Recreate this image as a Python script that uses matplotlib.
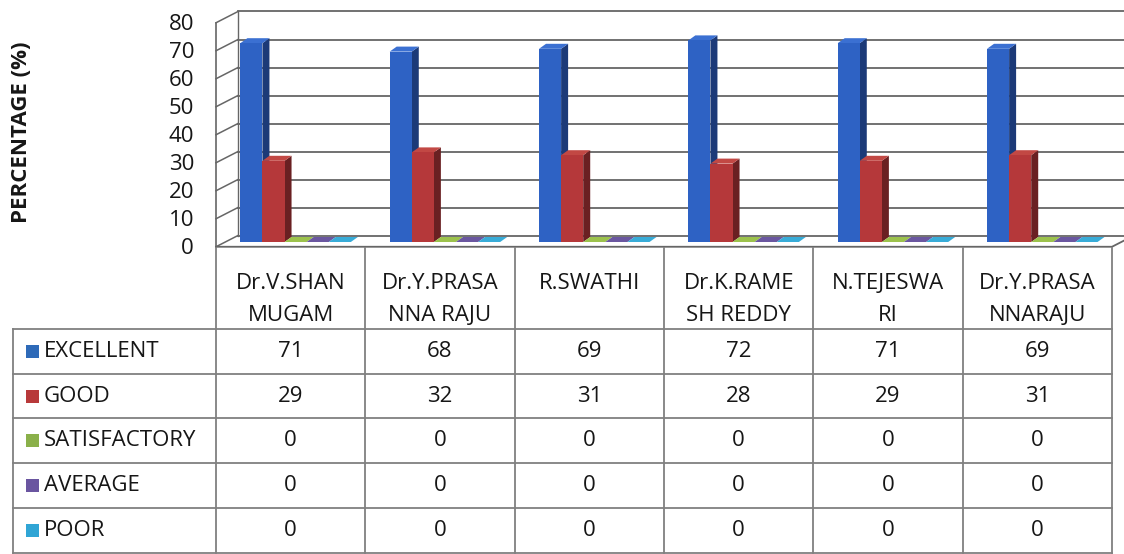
import numpy as np
import matplotlib.pyplot as plt
from matplotlib.patches import Polygon, Rectangle

plt.rcParams['font.family'] = ['Open Sans', 'DejaVu Sans']

teachers = ['Dr.V.SHAN\nMUGAM', 'Dr.Y.PRASA\nNNA RAJU', 'R.SWATHI',
            'Dr.K.RAME\nSH REDDY', 'N.TEJESWA\nRI', 'Dr.Y.PRASA\nNNARAJU']
ratings = ['EXCELLENT', 'GOOD', 'SATISFACTORY', 'AVERAGE', 'POOR']
excellent = [71, 68, 69, 72, 71, 69]
good = [29, 32, 31, 28, 29, 31]
satisfactory = [0, 0, 0, 0, 0, 0]
average = [0, 0, 0, 0, 0, 0]
poor = [0, 0, 0, 0, 0, 0]
yticks = [0, 10, 20, 30, 40, 50, 60, 70, 80]

series = [excellent, good, satisfactory, average, poor]
# (front, side, top) colours
face_cols = [('#2e62c4', '#1c3a78', '#3b70d2'),
             ('#b5383a', '#6a2022', '#c24844'),
             ('#8db340', '#5d7a2a', '#9cc24c'),
             ('#5c4a8e', '#3a2e60', '#6a57a0'),
             ('#2a9fcf', '#1c6f90', '#38acd8')]
key_cols = ['#2e6ab8', '#b8393a', '#8ab04a', '#6a55a0', '#30a5d5']
grid_col = '#666666'
tab_col = '#808080'
txt_col = '#161616'
fs = 16

W, H = 1124, 554
fig = plt.figure(figsize=(W / 100, H / 100), dpi=100)
fig.patch.set_facecolor('white')

# chart area: x = category index, y = percentage
x_left, x_right = 216, 1112
col_px = (x_right - x_left) / 6
y0_px, y80_px = 242, 18
unit_px = (y0_px - y80_px) / 80.
ax = fig.add_axes([x_left / W, 1 - y0_px / H, (x_right - x_left) / W, (y0_px - y80_px) / H])
ax.set_xlim(0, 6)
ax.set_ylim(0, 80)
ax.axis('off')

# fake 3d geometry, in data units
bx, by = 22 / col_px, 6.5 / unit_px      # back wall offset
fy = -1.7                                  # front edge offset
dx, dy = 7 / col_px, 5 / unit_px           # bar depth
bw = 0.148
off = 0.163

# back wall grid and left wall
for v in yticks:
    ax.plot([bx, 6 + bx], [v + by, v + by], color=grid_col, lw=1.3, clip_on=False, zorder=1)
    ax.plot([0, bx], [v + fy, v + by], color=grid_col, lw=1.1, clip_on=False, zorder=1)
    ax.text(-(x_left - 194) / col_px, v - 2.4, str(v), ha='right', va='center', fontsize=fs,
            color=txt_col, clip_on=False)
ax.plot([0, 0], [fy, 80 + fy], color=grid_col, lw=1.2, clip_on=False, zorder=1)
ax.plot([bx, bx], [by, 80 + by], color=grid_col, lw=1.0, clip_on=False, zorder=1)
# floor
ax.plot([0, 6, 6 + bx], [fy, fy, by], color=grid_col, lw=1.3, clip_on=False, zorder=1)

idx = np.arange(len(excellent))
for j, vals in enumerate(series):
    fc, sc, tc = face_cols[j]
    x0s = idx + off + j * bw
    z = 3 + 2 * j
    for x0, h in zip(x0s, vals):
        ax.add_patch(Polygon([(x0 + bw, 0), (x0 + bw, h), (x0 + bw + dx, h + dy), (x0 + bw + dx, dy)],
                             closed=True, facecolor=sc, edgecolor='none', zorder=z))
        ax.add_patch(Polygon([(x0, h), (x0 + bw, h), (x0 + bw + dx, h + dy), (x0 + dx, h + dy)],
                             closed=True, facecolor=tc, edgecolor='none', zorder=z))
    ax.bar(x0s, vals, bw, align='edge', color=fc, edgecolor='none', zorder=z + 1)

fig.text(22 / W, 1 - 132 / H, 'PERCENTAGE (%)', rotation=90, ha='center', va='center',
         fontsize=fs, fontweight='bold', color=txt_col)

# data table below the chart
tab_top, tab_bot = 248, 553
hdr = 1.8
n_rows = hdr + len(ratings)
tax = fig.add_axes([x_left / W, 1 - tab_bot / H, (x_right - x_left) / W, (tab_bot - tab_top) / H])
tax.set_xlim(0, 6)
tax.set_ylim(n_rows, 0)
tax.axis('off')
row_px = (tab_bot - tab_top) / n_rows
lab_left = (13 - x_left) / col_px

for k in range(len(ratings) + 1):
    tax.plot([lab_left, 6], [hdr + k, hdr + k], color=tab_col, lw=1.3, clip_on=False)
for c in range(7):
    tax.plot([c, c], [0, n_rows], color=tab_col, lw=1.3, clip_on=False)
tax.plot([lab_left, lab_left], [hdr, n_rows], color=tab_col, lw=1.3, clip_on=False)

line_y = [(284 - tab_top) / row_px, (316 - tab_top) / row_px]
for c, name in enumerate(teachers):
    for ln, part in enumerate(name.split('\n')):
        tax.text(c + 0.5, line_y[ln], part, ha='center', va='center', fontsize=fs,
                 color=txt_col, clip_on=False)

kw, kh = 13 / col_px, 13 / row_px
for r, (lab, vals) in enumerate(zip(ratings, series)):
    yc = hdr + r + 0.5
    tax.add_patch(Rectangle(((26 - x_left) / col_px, yc - kh / 2), kw, kh,
                            facecolor=key_cols[r], edgecolor='none', clip_on=False))
    tax.text((44 - x_left) / col_px, yc, lab, ha='left', va='center', fontsize=fs,
             color=txt_col, clip_on=False)
    for c, v in enumerate(vals):
        tax.text(c + 0.5, yc, str(v), ha='center', va='center', fontsize=fs, color=txt_col)

fig.savefig('out.png', dpi=100)
